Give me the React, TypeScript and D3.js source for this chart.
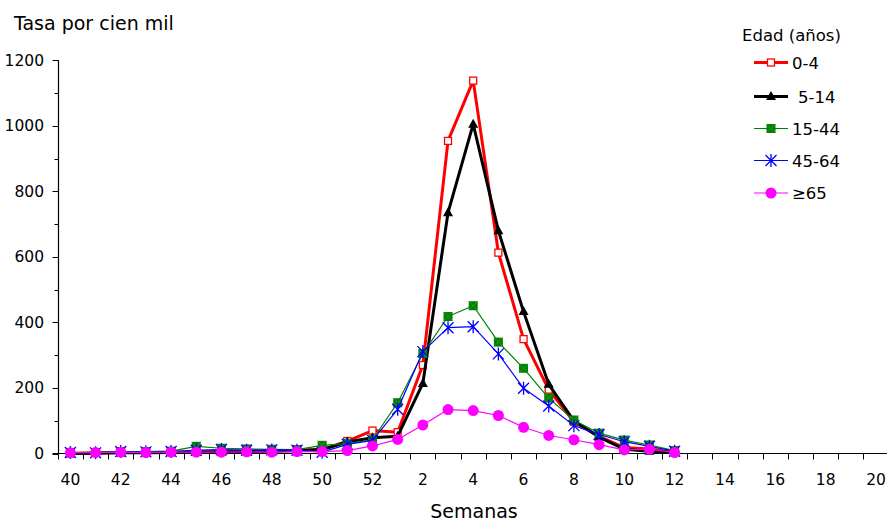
import React from "react";
import * as d3 from "d3";

const categories: number[] = [40, 41, 42, 43, 44, 45, 46, 47, 48, 49, 50, 51, 52, 1, 2, 3, 4, 5, 6, 7, 8, 9, 10, 11, 12, 13, 14, 15, 16, 17, 18, 19, 20];
const dataWeeks: number[] = [40, 41, 42, 43, 44, 45, 46, 47, 48, 49, 50, 51, 52, 1, 2, 3, 4, 5, 6, 7, 8, 9, 10, 11, 12];

const s0_4: number[] = [0, 2, 3, 3, 4, 5, 6, 6, 8, 9, 12, 38, 70, 65, 270, 954, 1138, 613, 349, 195, 97, 52, 18, 14, 4];
const s5_14: number[] = [0, 1, 2, 2, 3, 3, 4, 6, 8, 9, 12, 35, 48, 53, 214, 735, 1005, 680, 433, 211, 100, 50, 13, 7, 3];
const s15_44: number[] = [2, 3, 6, 6, 7, 22, 16, 14, 13, 12, 25, 30, 42, 155, 305, 418, 451, 340, 260, 169, 102, 62, 41, 26, 9];
const s45_64: number[] = [3, 2, 6, 5, 6, 10, 12, 10, 11, 10, 4, 28, 40, 135, 311, 384, 387, 304, 199, 145, 85, 58, 36, 22, 7];
const s65: number[] = [2, 3, 4, 3, 4, 4, 4, 5, 4, 6, 6, 9, 23, 43, 87, 134, 131, 116, 80, 55, 42, 27, 11, 13, 3];

const seriesNames: string[] = ["0-4", "5-14", "15-44", "45-64", "≥65"];
const yTicks: number[] = [0, 200, 400, 600, 800, 1000, 1200];
const yMinorTicks: number[] = [100, 300, 500, 700, 900, 1100];

type Marker = "hollowSquare" | "triangle" | "square" | "asterisk" | "circle";
const seriesData = [s0_4, s5_14, s15_44, s45_64, s65];
const seriesStyle: { color: string; width: number; marker: Marker; labelDx: number }[] = [
  { color: "#FF0000", width: 3, marker: "hollowSquare", labelDx: 0 },
  { color: "#000000", width: 3, marker: "triangle", labelDx: 6 },
  { color: "#008000", width: 1.2, marker: "square", labelDx: 0 },
  { color: "#0000FF", width: 1.2, marker: "asterisk", labelDx: 0 },
  { color: "#FF00FF", width: 1.2, marker: "circle", labelDx: 0 },
];

const FONT = "DejaVu Sans, Verdana, sans-serif";

function MarkerShape({ type, x, y, color }: { type: Marker; x: number; y: number; color: string }) {
  switch (type) {
    case "hollowSquare":
      return <rect x={x - 3.5} y={y - 3.5} width={7} height={7} fill="#fff" stroke={color} strokeWidth={1.3} />;
    case "triangle":
      return <path d={`M${x},${y - 5.5} L${x + 5},${y + 3.5} L${x - 5},${y + 3.5} Z`} fill={color} />;
    case "square":
      return (
        <g>
          <rect x={x - 4.5} y={y - 4.5} width={9} height={9} fill={color} />
          <path d={`M${x - 4.5},${y - 4.5} L${x + 4.5},${y + 4.5} M${x + 4.5},${y - 4.5} L${x - 4.5},${y + 4.5}`} stroke="#2e9a2e" strokeWidth={0.8} />
        </g>
      );
    case "asterisk":
      return (
        <path
          d={`M${x - 5.5},${y - 5.5} L${x + 5.5},${y + 5.5} M${x + 5.5},${y - 5.5} L${x - 5.5},${y + 5.5} M${x},${y - 6.5} L${x},${y + 6.5}`}
          stroke={color}
          strokeWidth={1.3}
          fill="none"
        />
      );
    case "circle":
      return <circle cx={x} cy={y} r={5.5} fill={color} />;
  }
}

export default function App() {
  const W = 887;
  const H = 522;
  const x = d3.scaleBand<number>().domain(categories).range([57.8, 888.6]).padding(0);
  const bw = x.bandwidth();
  const cx = (c: number) => (x(c) as number) + bw / 2;
  const y = d3.scaleLinear().domain([0, 1200]).range([453.5, 60.3]);

  const line = d3
    .line<number>()
    .x((_, i) => cx(dataWeeks[i]))
    .y((v) => y(v));

  const axisY = 453.5;
  const axisX = 58.5;

  const legendX0 = 754;
  const legendX1 = 788;
  const legendRows = [62.5, 96.5, 128.5, 160.5, 193];

  return (
    <svg width={W} height={H} style={{ position: "absolute", left: 0, top: 0, background: "#fff" }} fontFamily={FONT}>
      <rect x={0} y={0} width={W} height={H} fill="#fff" />
      <text x={14} y={30} fontSize={19} fill="#000">Tasa por cien mil</text>

      {/* Y axis */}
      <line x1={axisX} x2={axisX} y1={y(1200)} y2={axisY} stroke="#000" strokeWidth={1.2} />
      {yTicks.map((t) => (
        <g key={"yt" + t}>
          <line x1={axisX - 6} x2={axisX} y1={Math.round(y(t)) + 0.5} y2={Math.round(y(t)) + 0.5} stroke="#000" strokeWidth={1} />
          <text x={44} y={y(t) + 5.5} fontSize={15.5} textAnchor="end" fill="#000">{t}</text>
        </g>
      ))}
      {yMinorTicks.map((t) => (
        <line key={"ym" + t} x1={axisX - 4} x2={axisX} y1={Math.round(y(t)) + 0.5} y2={Math.round(y(t)) + 0.5} stroke="#000" strokeWidth={1} />
      ))}

      {/* X axis */}
      <line x1={axisX - 6} x2={W} y1={axisY} y2={axisY} stroke="#000" strokeWidth={1.2} />
      {categories.map((c) => (
        <line key={"xt" + c} x1={Math.round(x(c) as number) + 0.5} x2={Math.round(x(c) as number) + 0.5} y1={axisY} y2={axisY + 6} stroke="#000" strokeWidth={1} />
      ))}
      {categories.map((c, i) =>
        i % 2 === 0 ? (
          <text key={"xl" + c} x={cx(c)} y={axisY + 31} fontSize={15.5} textAnchor="middle" fill="#000">{c}</text>
        ) : null
      )}
      <text x={474} y={518} fontSize={19} textAnchor="middle" fill="#000">Semanas</text>

      {/* Series */}
      {seriesData.map((vals, si) => {
        const st = seriesStyle[si];
        return (
          <g key={"s" + si}>
            <path d={line(vals) || ""} fill="none" stroke={st.color} strokeWidth={st.width} strokeLinejoin="round" />
            {vals.map((v, i) => (
              <MarkerShape key={i} type={st.marker} x={cx(dataWeeks[i])} y={y(v)} color={st.color} />
            ))}
          </g>
        );
      })}

      {/* Legend */}
      <text x={742} y={41} fontSize={16.5} fill="#000">Edad (años)</text>
      {seriesNames.map((name, si) => {
        const st = seriesStyle[si];
        const ly = legendRows[si];
        return (
          <g key={"lg" + si}>
            <line x1={legendX0} x2={legendX1} y1={ly} y2={ly} stroke={st.color} strokeWidth={st.width} />
            <MarkerShape type={st.marker} x={(legendX0 + legendX1) / 2} y={ly} color={st.color} />
            <text x={792 + st.labelDx} y={ly + 6} fontSize={16.5} fill="#000">{name}</text>
          </g>
        );
      })}
    </svg>
  );
}
